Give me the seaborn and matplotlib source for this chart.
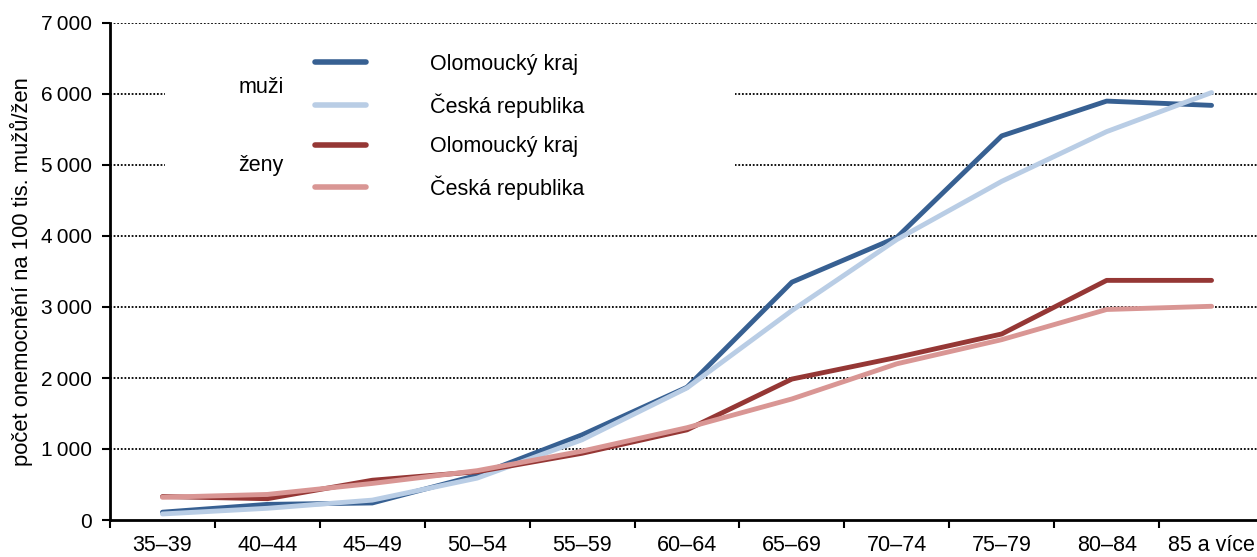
import numpy as np
import pandas as pd
import matplotlib
matplotlib.use("Agg")
import matplotlib.pyplot as plt
from matplotlib.patches import Rectangle
from matplotlib.lines import Line2D
import seaborn as sns

# Age groups and incidence per 100k
age_groups = ["35–39", "40–44", "45–49", "50–54", "55–59", "60–64",
              "65–69", "70–74", "75–79", "80–84", "85 a více"]
muzi_olomoucky = [110, 220, 240, 630, 1200, 1870, 3350, 3980, 5410, 5900, 5840]
muzi_cr = [85, 165, 280, 590, 1130, 1860, 2950, 3950, 4770, 5470, 6020]
zeny_olomoucky = [330, 300, 560, 680, 940, 1270, 1985, 2290, 2620, 3375, 3375]
zeny_cr = [320, 360, 515, 695, 970, 1300, 1705, 2200, 2540, 2965, 3010]

series = {
    ("muži", "Olomoucký kraj"): muzi_olomoucky,
    ("muži", "Česká republika"): muzi_cr,
    ("ženy", "Olomoucký kraj"): zeny_olomoucky,
    ("ženy", "Česká republika"): zeny_cr,
}
colors = {
    ("muži", "Olomoucký kraj"): "#376092",
    ("muži", "Česká republika"): "#B9CDE5",
    ("ženy", "Olomoucký kraj"): "#953735",
    ("ženy", "Česká republika"): "#D99694",
}

rows = []
for (sex, region), vals in series.items():
    for i, v in enumerate(vals):
        rows.append({"pos": i, "value": v, "key": f"{sex} | {region}"})
df = pd.DataFrame(rows)
palette = {f"{s} | {r}": c for (s, r), c in colors.items()}

sns.set_style("white")
plt.rcParams["font.family"] = ["Liberation Sans", "DejaVu Sans"]
plt.rcParams["text.color"] = "black"
plt.rcParams["axes.labelcolor"] = "black"
plt.rcParams["xtick.color"] = "black"
plt.rcParams["ytick.color"] = "black"

fs = 15.5

fig = plt.figure(figsize=(12.57, 5.57), dpi=100)
ax = fig.add_axes([110 / 1257, 37 / 557, 1154 / 1257, 497 / 557])

# dotted grid
for y in range(1000, 8000, 1000):
    ax.axhline(y, color="black", lw=1.3, ls=(0, (1, 1)), zorder=1)

# white box behind legend hides part of the grid (pixel coords, origin bottom-left)
ax.add_patch(Rectangle((165, 342), 570, 175, transform=None, facecolor="white",
                       edgecolor="none", zorder=2))

sns.lineplot(data=df, x="pos", y="value", hue="key", palette=palette, ax=ax,
             lw=3.5, legend=False, zorder=3, solid_capstyle="round")

ax.set_xlim(-0.5, 10.5)
ax.set_ylim(0, 7000)
ax.set_xticks(np.arange(-0.5, 11, 1))
ax.set_xticklabels([])
ax.set_xticks(np.arange(11), minor=True)
ax.set_xticklabels(age_groups, minor=True, fontsize=fs)
ax.tick_params(axis="x", which="major", length=6, width=1.5, direction="out",
               bottom=True, color="black")
ax.tick_params(axis="x", which="minor", length=0, pad=11)
ax.set_yticks(range(0, 8000, 1000))
ax.set_yticklabels([f"{v:,}".replace(",", "\u2009") for v in range(0, 8000, 1000)],
                   fontsize=15)
ax.tick_params(axis="y", length=6, width=1.5, direction="out", left=True,
               color="black", pad=7)

for side in ["top", "right"]:
    ax.spines[side].set_visible(False)
for side in ["left", "bottom"]:
    ax.spines[side].set_color("black")
    ax.spines[side].set_linewidth(2)

ax.set_xlabel("")
ax.set_ylabel("počet onemocnění na 100 tis. mužů/žen", fontsize=15.8, labelpad=6)

handles = [Line2D([0], [0], color=colors[k], lw=4, solid_capstyle="round")
           for k in series]
labels = [k[1] for k in series]
leg = ax.legend(handles, labels, loc="upper left", bbox_to_anchor=(0.17, 0.955),
                frameon=False, fontsize=fs, handlelength=2.4, handletextpad=2.95,
                labelspacing=0.85, borderaxespad=0)
leg.set_zorder(4)

ax.text(0.111, 0.87, "muži", transform=ax.transAxes, fontsize=fs,
        va="center", ha="left", zorder=5)
ax.text(0.111, 0.713, "ženy", transform=ax.transAxes, fontsize=fs,
        va="center", ha="left", zorder=5)

fig.savefig("out.png", dpi=100)
